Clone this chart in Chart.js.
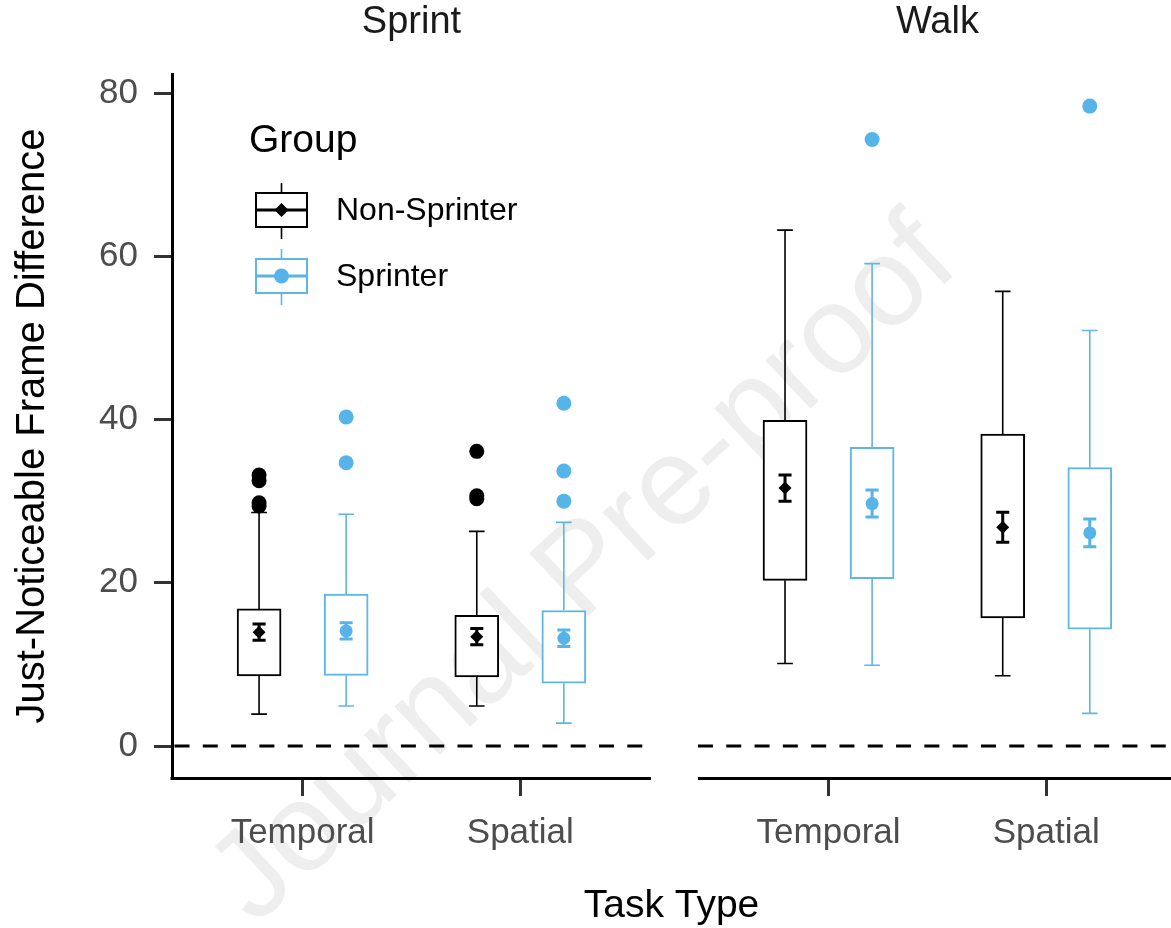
<!DOCTYPE html>
<html>
<head>
<meta charset="utf-8">
<script src="https://cdn.jsdelivr.net/npm/chart.js@4.4.1/dist/chart.umd.min.js"></script>
<style>
html,body{margin:0;padding:0;background:#fff;overflow:hidden}
canvas{display:block}
</style>
</head>
<body>
<canvas id="c" width="1171" height="928"></canvas>
<script>
const FONT = '"Liberation Sans", Arial, Helvetica, sans-serif';

// ---------- data ----------
const panels = ['Sprint', 'Walk'];
const tasks = ['Temporal', 'Spatial'];
const groups = ['Non-Sprinter', 'Sprinter'];
// cell order: Sprint/Temporal, Sprint/Spatial, Walk/Temporal, Walk/Spatial
const nsLowerWhisker = [3.9, 4.9, 10.1, 8.6];
const nsQ1 = [8.6, 8.45, 20.3, 15.7];
const nsQ3 = [16.8, 16.0, 39.9, 38.2];
const nsUpperWhisker = [28.6, 26.3, 63.2, 55.7];
const nsMean = [13.95, 13.4, 31.6, 26.8];
const nsSE = [1.0, 1.0, 1.6, 1.85];
const nsOutliers = [[29.4, 29.8, 32.5, 33.2], [30.3, 30.65, 36.1], [], []];

const spLowerWhisker = [4.9, 2.8, 9.9, 4.0];
const spQ1 = [8.65, 7.7, 20.5, 14.3];
const spQ3 = [18.6, 16.6, 36.6, 34.1];
const spUpperWhisker = [28.4, 27.4, 59.1, 50.9];
const spMean = [14.1, 13.2, 29.7, 26.1];
const spSE = [1.0, 1.0, 1.65, 1.7];
const spOutliers = [[34.7, 40.3], [30.0, 33.7, 42.0], [74.3], [78.4]];

const yTickValues = [0, 20, 40, 60, 80];
const refLineValue = 0;

// ---------- layout (facets share one x axis) ----------
const PANEL_SHIFT = [0, 2.416];
const PANEL_RANGE = [[0.4, 2.6], [2.816, 5.016]];
const X_MIN = 0.4, X_MAX = 4.989;
const Y_MIN = -3.92, Y_MAX = 82.33;
const DODGE = 0.2, CAP = 0.036, SE_CAP = 0.03;

const cellX = (c, g) => PANEL_SHIFT[Math.floor(c / 2)] + (c % 2) + 1 + (g ? DODGE : -DODGE);
const tickPositions = [];
const tickLabels = [];
panels.forEach((p, pi) => tasks.forEach((t, ti) => {
  tickPositions.push(PANEL_SHIFT[pi] + ti + 1);
  tickLabels.push(t);
}));

const series = [
  {name: groups[0], color: '#000000', lineColor: '#000000', lo: nsLowerWhisker, q1: nsQ1, q3: nsQ3, hi: nsUpperWhisker,
   mean: nsMean, se: nsSE, out: nsOutliers, meanStyle: 'rectRot', meanR: 6.5},
  {name: groups[1], color: '#56B4E9', lineColor: '#5FB6E3', lo: spLowerWhisker, q1: spQ1, q3: spQ3, hi: spUpperWhisker,
   mean: spMean, se: spSE, out: spOutliers, meanStyle: 'circle', meanR: 6.5}
];

const datasets = [];
// zero reference line, one per facet
PANEL_RANGE.forEach((r, i) => {
  datasets.push({
    type: 'line', label: 'ref' + i,
    data: [{x: r[0], y: refLineValue}, {x: r[1], y: refLineValue}],
    borderColor: '#000', borderWidth: 3, borderDash: [15, 13.3], borderDashOffset: i === 0 ? 25.8 : 0,
    pointRadius: 0, pointHoverRadius: 0, order: 20
  });
});

series.forEach((s, g) => {
  const cells = [0, 1, 2, 3];
  // boxes
  datasets.push({
    type: 'bar', label: s.name,
    data: cells.map(c => ({x: cellX(c, g), y: [s.q1[c], s.q3[c]]})),
    backgroundColor: '#ffffff', borderColor: s.lineColor, borderWidth: 2, borderSkipped: false,
    barThickness: 44, grouped: false, order: 10
  });
  // whiskers
  const wp = [];
  cells.forEach(c => {
    const x = cellX(c, g);
    wp.push({x, y: s.lo[c]}, {x, y: s.q1[c]}, {x, y: null});
    wp.push({x, y: s.q3[c]}, {x, y: s.hi[c]}, {x, y: null});
    wp.push({x: x - CAP, y: s.lo[c]}, {x: x + CAP, y: s.lo[c]}, {x, y: null});
    wp.push({x: x - CAP, y: s.hi[c]}, {x: x + CAP, y: s.hi[c]}, {x, y: null});
  });
  datasets.push({
    type: 'line', label: s.name + ' whiskers', data: wp,
    borderColor: s.lineColor, borderWidth: 1.6, pointRadius: 0, pointHoverRadius: 0, spanGaps: false, order: 8
  });
  // mean +- SE
  const ep = [];
  cells.forEach(c => {
    const x = cellX(c, g), a = s.mean[c] - s.se[c], b = s.mean[c] + s.se[c];
    ep.push({x, y: a}, {x, y: b}, {x, y: null});
    ep.push({x: x - SE_CAP, y: a}, {x: x + SE_CAP, y: a}, {x, y: null});
    ep.push({x: x - SE_CAP, y: b}, {x: x + SE_CAP, y: b}, {x, y: null});
  });
  datasets.push({
    type: 'line', label: s.name + ' se', data: ep,
    borderColor: s.color, borderWidth: 3, pointRadius: 0, pointHoverRadius: 0, spanGaps: false, order: 4
  });
  datasets.push({
    type: 'scatter', label: s.name + ' mean',
    data: cells.map(c => ({x: cellX(c, g), y: s.mean[c]})),
    pointStyle: s.meanStyle, pointRadius: s.meanR, pointHoverRadius: s.meanR,
    backgroundColor: s.color, borderColor: s.color, borderWidth: 0, order: 2
  });
  // outliers
  const op = [];
  cells.forEach(c => s.out[c].forEach(v => op.push({x: cellX(c, g), y: v})));
  datasets.push({
    type: 'scatter', label: s.name + ' outliers', data: op,
    pointStyle: 'circle', pointRadius: 7.5, pointHoverRadius: 7.5,
    backgroundColor: s.color, borderColor: s.color, borderWidth: 0, order: 1
  });
});

// ---------- plugins ----------
const background = {
  id: 'background',
  beforeDraw(chart) {
    const {ctx, width, height} = chart;
    ctx.save();
    ctx.fillStyle = '#ffffff';
    ctx.fillRect(0, 0, width, height);
    // watermark
    ctx.translate(585, 572);
    ctx.rotate(-43 * Math.PI / 180);
    ctx.font = `125px ${FONT}`;
    ctx.fillStyle = '#eeeeee';
    ctx.textAlign = 'center';
    ctx.textBaseline = 'middle';
    ctx.fillText('Journal Pre-proof', 0, 0);
    ctx.restore();
  }
};

const facets = {
  id: 'facets',
  afterDatasetsDraw(chart) {
    const {ctx, chartArea, scales} = chart;
    const x = scales.x;
    ctx.save();
    // facet x-axis lines
    ctx.strokeStyle = '#000';
    ctx.lineWidth = 3;
    PANEL_RANGE.forEach((r, i) => {
      const a = i === 0 ? chartArea.left - 1.5 : x.getPixelForValue(r[0]);
      const b = x.getPixelForValue(r[1]);
      ctx.beginPath();
      ctx.moveTo(a, chartArea.bottom + 0.5);
      ctx.lineTo(b, chartArea.bottom + 0.5);
      ctx.stroke();
    });
    // strip labels
    ctx.fillStyle = '#1a1a1a';
    ctx.font = `38px ${FONT}`;
    ctx.textAlign = 'center';
    ctx.textBaseline = 'middle';
    panels.forEach((p, i) => {
      const mid = (PANEL_RANGE[i][0] + PANEL_RANGE[i][1]) / 2;
      ctx.fillText(p, x.getPixelForValue(mid), 23);
    });
    ctx.restore();
  },
  afterDraw(chart) {
    const ctx = chart.ctx;
    ctx.save();
    ctx.fillStyle = '#000';
    ctx.textAlign = 'left';
    ctx.textBaseline = 'middle';
    ctx.font = `39px ${FONT}`;
    ctx.fillText('Group', 249, 141);
    series.forEach((s, i) => {
      const cx = 281.5, cy = 210 + i * 66, hw = 25.5, hh = 17;
      ctx.strokeStyle = s.lineColor;
      ctx.lineWidth = 1.6;
      ctx.beginPath();
      ctx.moveTo(cx, cy - hh - 10); ctx.lineTo(cx, cy - hh);
      ctx.moveTo(cx, cy + hh); ctx.lineTo(cx, cy + hh + 12);
      ctx.stroke();
      ctx.lineWidth = 2;
      ctx.strokeRect(cx - hw, cy - hh, 2 * hw, 2 * hh);
      ctx.strokeStyle = s.color;
      ctx.lineWidth = 3;
      ctx.beginPath(); ctx.moveTo(cx - hw, cy); ctx.lineTo(cx + hw, cy); ctx.stroke();
      ctx.fillStyle = s.color;
      ctx.beginPath();
      if (s.meanStyle === 'rectRot') {
        const r = s.meanR + 0.5;
        ctx.moveTo(cx - r, cy); ctx.lineTo(cx, cy - r); ctx.lineTo(cx + r, cy); ctx.lineTo(cx, cy + r); ctx.closePath();
      } else {
        ctx.arc(cx, cy, s.meanR + 1, 0, Math.PI * 2);
      }
      ctx.fill();
      ctx.fillStyle = '#000';
      ctx.font = `32px ${FONT}`;
      ctx.fillText(s.name, 336, cy + 1);
    });
    ctx.restore();
  }
};

new Chart(document.getElementById('c'), {
  type: 'bar',
  data: {datasets},
  options: {
    responsive: false,
    animation: false,
    devicePixelRatio: 1,
    layout: {autoPadding: false, padding: {top: 74, left: 0, right: 0, bottom: 0}},
    plugins: {legend: {display: false}, tooltip: {enabled: false}},
    events: [],
    scales: {
      x: {
        type: 'linear', min: X_MIN, max: X_MAX, offset: false,
        afterFit: s => { s.height = 150; s.paddingLeft = 0; s.paddingRight = 0; },
        afterBuildTicks: s => { s.ticks = tickPositions.map(v => ({value: v})); },
        ticks: {callback: (v, i) => tickLabels[i], font: {family: FONT, size: 35}, color: '#4d4d4d', padding: 16, maxRotation: 0, autoSkip: false},
        grid: {offset: false, drawOnChartArea: false, drawTicks: true, tickLength: 18, lineWidth: 3, color: '#333333'},
        border: {display: false},
        title: {display: true, text: 'Task Type', font: {family: FONT, size: 39, lineHeight: 1.1}, color: '#000', padding: {top: 0, bottom: 0}}
      },
      y: {
        type: 'linear', min: Y_MIN, max: Y_MAX,
        afterFit: s => { s.width = 172; s.paddingTop = 0; s.paddingBottom = 0; },
        afterBuildTicks: s => { s.ticks = yTickValues.map(v => ({value: v})); },
        ticks: {font: {family: FONT, size: 35}, color: '#4d4d4d', padding: 16},
        grid: {drawOnChartArea: false, drawTicks: true, tickLength: 18, lineWidth: 3, color: '#333333'},
        border: {display: true, width: 3, color: '#000'},
        title: {display: true, text: 'Just-Noticeable Frame Difference', font: {family: FONT, size: 40, lineHeight: 1.1}, color: '#000', padding: {top: 11, bottom: 0}}
      }
    }
  },
  plugins: [background, facets]
});
</script>
</body>
</html>
